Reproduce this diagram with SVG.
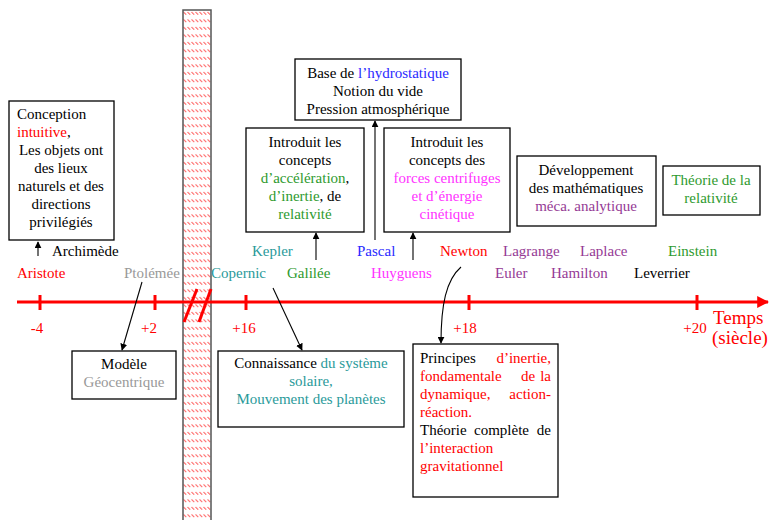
<svg xmlns="http://www.w3.org/2000/svg" width="769" height="520" viewBox="0 0 769 520" font-family="'Liberation Serif', 'Times New Roman', serif">
<defs>
<pattern id="hatch" patternUnits="userSpaceOnUse" width="4" height="7.5" x="183" y="10">
<path d="M0.6,2 L3.2,4.6" stroke="#ff0000" stroke-width="0.9"/>
</pattern>
<marker id="ah" viewBox="0 0 10 10" refX="9" refY="5" markerWidth="7" markerHeight="7" orient="auto" markerUnits="userSpaceOnUse">
<path d="M0,0 L10,5 L0,10 z" fill="#000"/>
</marker>
<marker id="ahr" viewBox="0 0 10 10" refX="9" refY="5" markerWidth="12" markerHeight="12" orient="auto" markerUnits="userSpaceOnUse">
<path d="M0,0 L10,5 L0,10 z" fill="#ff0000"/>
</marker>
</defs>
<style>
text{font-family:"Liberation Serif","Times New Roman",serif;font-size:15px;fill:#000}
.c{text-anchor:middle}
.e{text-anchor:end}
.red{fill:#ff0000}
.teal{fill:#2a9a9a}
.green{fill:#2e9a2e}
.blue{fill:#2a2aff}
.mag{fill:#ff33ff}
.pur{fill:#953a95}
.gray{fill:#999999}
.box{fill:#fff;stroke:#000;stroke-width:1.3}
.con{fill:none;stroke:#000;stroke-width:1.1}
</style>
<rect width="769" height="520" fill="#fff"/>

<g id="barrier">
<rect x="183" y="10" width="28" height="512" fill="url(#hatch)" stroke="#555" stroke-width="1.5"/>
</g>

<g id="timeline">
<line x1="17" y1="302" x2="768" y2="302" stroke="#ff0000" stroke-width="3.2" marker-end="url(#ahr)"/>
<g stroke="#ff0000" stroke-width="3">
<line x1="40" y1="295" x2="40" y2="310"/>
<line x1="155" y1="295" x2="155" y2="310"/>
<line x1="246" y1="295" x2="246" y2="310"/>
<line x1="469" y1="295" x2="469" y2="310"/>
<line x1="697" y1="295" x2="697" y2="310"/>
<line x1="184" y1="322" x2="197" y2="289"/>
<line x1="199" y1="322" x2="211" y2="289"/>
</g>
<text class="c red" x="37" y="333">-4</text>
<text class="c red" x="149" y="333">+2</text>
<text class="c red" x="244" y="333">+16</text>
<text class="c red" x="465" y="333">+18</text>
<text class="c red" x="695" y="333">+20</text>
<text class="red" x="713" y="324" style="font-size:19px">Temps</text>
<text class="red" x="712" y="344" style="font-size:19px">(siècle)</text>
</g>

<g id="names">
<text class="red" x="17" y="278">Aristote</text>
<text x="52" y="256">Archimède</text>
<text class="gray" x="124" y="278">Ptolémée</text>
<text class="teal" x="211" y="278">Copernic</text>
<text class="teal" x="252" y="256">Kepler</text>
<text class="green" x="287" y="278">Galilée</text>
<text class="blue" x="357" y="256">Pascal</text>
<text class="mag" x="371" y="278">Huyguens</text>
<text class="red" x="440" y="256">Newton</text>
<text class="pur" x="503" y="256">Lagrange</text>
<text class="pur" x="495" y="278">Euler</text>
<text class="pur" x="580" y="256">Laplace</text>
<text class="pur" x="551" y="278">Hamilton</text>
<text class="green" x="668" y="256">Einstein</text>
<text x="634" y="278">Leverrier</text>
</g>

<g id="aristote-box">
<rect class="box" x="9" y="101" width="105" height="139"/>
<text x="17" y="119">Conception</text>
<text x="17" y="137"><tspan class="red">intuitive</tspan>,</text>
<text class="c" x="61" y="155">Les objets ont</text>
<text class="c" x="61" y="173">des lieux</text>
<text class="c" x="61" y="191">naturels et des</text>
<text class="c" x="61" y="209">directions</text>
<text class="c" x="61" y="227">privilégiés</text>
</g>

<g id="modele-box">
<rect class="box" x="72" y="351" width="104" height="48"/>
<text class="c" x="124" y="369">Modèle</text>
<text class="c gray" x="124" y="387">Géocentrique</text>
</g>

<g id="connaissance-box">
<rect class="box" x="218" y="351" width="186" height="76"/>
<text class="c" x="311" y="368">Connaissance <tspan class="teal">du système</tspan></text>
<text class="c teal" x="311" y="386">solaire,</text>
<text class="c teal" x="311" y="404">Mouvement des planètes</text>
</g>

<g id="galilee-box">
<rect class="box" x="246" y="128" width="118" height="104"/>
<text class="c" x="305" y="147">Introduit les</text>
<text class="c" x="305" y="165">concepts</text>
<text class="c" x="305" y="183"><tspan class="green">d’accélération</tspan>,</text>
<text class="c" x="305" y="201"><tspan class="green">d’inertie</tspan>, de</text>
<text class="c green" x="305" y="219">relativité</text>
</g>

<g id="pascal-box">
<rect class="box" x="295" y="59" width="166" height="61"/>
<text class="c" x="378" y="78">Base de <tspan class="blue">l’hydrostatique</tspan></text>
<text class="c" x="378" y="96">Notion du vide</text>
<text class="c" x="378" y="114">Pression atmosphérique</text>
</g>

<g id="huyguens-box">
<rect class="box" x="384" y="128" width="126" height="104"/>
<text class="c" x="447" y="147">Introduit les</text>
<text class="c" x="447" y="165">concepts des</text>
<text class="c mag" x="447" y="183">forces centrifuges</text>
<text class="c mag" x="447" y="201">et d’énergie</text>
<text class="c mag" x="447" y="219">cinétique</text>
</g>

<g id="dev-box">
<rect class="box" x="517" y="156" width="139" height="70"/>
<text class="c" x="586" y="175">Développement</text>
<text class="c" x="586" y="193">des mathématiques</text>
<text class="c pur" x="586" y="211">méca. analytique</text>
</g>

<g id="theorie-box">
<rect class="box" x="663" y="166" width="97" height="49"/>
<text class="c green" x="711" y="185">Théorie de la</text>
<text class="c green" x="711" y="203">relativité</text>
</g>

<g id="newton-box">
<rect class="box" x="413" y="344" width="145" height="153"/>
<text x="420" y="363">Principes</text>
<text class="e red" x="551" y="363">d’inertie,</text>
<text class="red" x="420" y="381">fondamentale</text>
<text class="red" x="521" y="381">de</text>
<text class="e red" x="551" y="381">la</text>
<text class="red" x="420" y="399">dynamique,</text>
<text class="e red" x="551" y="399">action-</text>
<text class="red" x="420" y="417">réaction.</text>
<text x="420" y="435">Théorie</text>
<text x="474" y="435">complète</text>
<text class="e" x="551" y="435">de</text>
<text class="red" x="420" y="453">l’interaction</text>
<text class="red" x="420" y="471">gravitationnel</text>
</g>

<g id="connectors">
<line class="con" x1="38" y1="256" x2="38" y2="242" marker-end="url(#ah)"/>
<line class="con" x1="142" y1="282" x2="122" y2="350" marker-end="url(#ah)"/>
<line class="con" x1="273" y1="288" x2="302" y2="350" marker-end="url(#ah)"/>
<line class="con" x1="316" y1="260" x2="316" y2="233" marker-end="url(#ah)"/>
<line class="con" x1="375" y1="240" x2="375" y2="121" marker-end="url(#ah)"/>
<line class="con" x1="413" y1="260" x2="413" y2="233" marker-end="url(#ah)"/>
<path class="con" d="M461,267 C446,280 441,305 441,343" marker-end="url(#ah)"/>
</g>
</svg>
